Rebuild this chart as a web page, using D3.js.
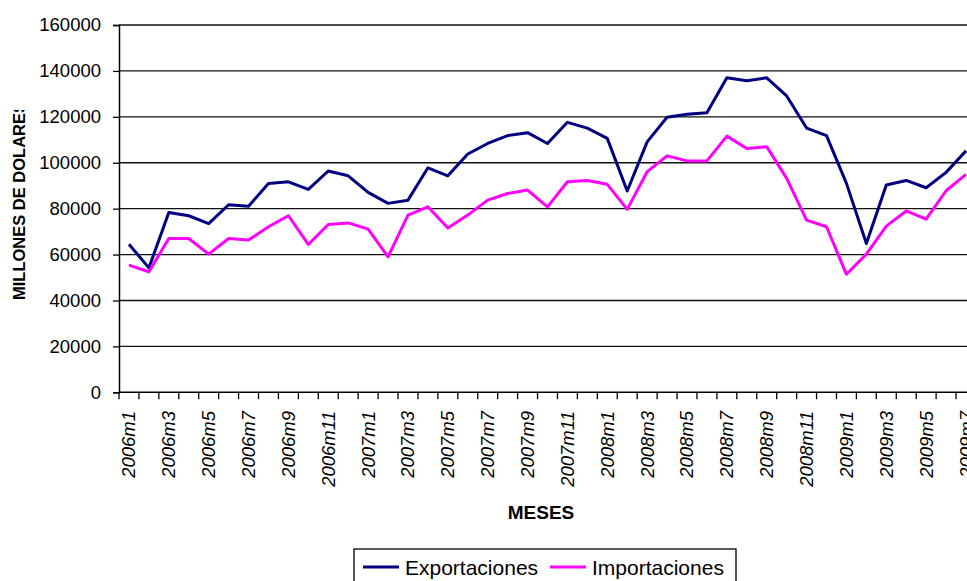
<!DOCTYPE html>
<html>
<head>
<meta charset="utf-8">
<script src="https://cdn.jsdelivr.net/npm/d3@7"></script>
<style>
  html, body { margin: 0; padding: 0; background: #fff; overflow: hidden; }
  svg { display: block; }
</style>
</head>
<body>
<div id="chart"></div>
<script>
// months 2006m1 .. 2009m7
const months = [];
for (let yr = 2006; yr <= 2009; yr++) {
  const last = yr === 2009 ? 7 : 12;
  for (let m = 1; m <= last; m++) months.push(`${yr}m${m}`);
}

const exportaciones = [
  64500, 54200, 78300, 76900, 73500, 81700, 81000, 91000, 91700, 88400, 96400, 94300,
  87100, 82300, 83700, 97800, 94300, 103800, 108400, 111800, 113100, 108400, 117600, 115100,
  110600, 87700, 109100, 119800, 121100, 121800, 137000, 135700, 137000, 129100, 115100, 111800,
  91000, 64800, 90300, 92300, 89100, 95800, 105200
];

const importaciones = [
  55400, 52500, 67000, 67000, 60200, 67000, 66300, 72100, 76900, 64400, 73100, 73800,
  71100, 59000, 77200, 80800, 71600, 77200, 83700, 86600, 88100, 80800, 91700, 92300,
  90600, 79700, 96100, 103000, 100800, 100800, 111600, 106200, 107000, 93200, 75000, 72100,
  51400, 60200, 72400, 79000, 75400, 87800, 94900
];

const yTicks = [0, 20000, 40000, 60000, 80000, 100000, 120000, 140000, 160000];

const series = [
  { name: "Exportaciones", values: exportaciones, color: "#000080" },
  { name: "Importaciones", values: importaciones, color: "#FF00FF" }
];

const width = 967;
const height = 581;
const margin = { top: 25, left: 119, bottom: 189 };
const band = 19.93;
const font = "'Liberation Sans', Arial, sans-serif";

const svg = d3.select("#chart")
  .append("svg")
  .attr("width", width)
  .attr("height", height)
  .style("font-family", font);

const x = d3.scaleBand()
  .domain(months)
  .range([margin.left, margin.left + band * months.length])
  .padding(0);

const y = d3.scaleLinear()
  .domain([0, 160000])
  .range([height - margin.bottom + 0.3, margin.top]);

// Gridlines
svg.append("g")
  .selectAll("line")
  .data(yTicks.slice(1))
  .join("line")
  .attr("x1", margin.left)
  .attr("x2", width)
  .attr("y1", d => y(d))
  .attr("y2", d => y(d))
  .attr("stroke", "#111")
  .attr("stroke-width", 1.3);

// Y axis
const yAxis = svg.append("g")
  .attr("transform", `translate(${margin.left},0)`)
  .call(d3.axisLeft(y).tickValues(yTicks).tickFormat(d3.format("d")).tickSize(6).tickPadding(12));
yAxis.select(".domain").attr("stroke", "#000").attr("stroke-width", 1.5);
yAxis.selectAll(".tick line").attr("stroke", "#000").attr("stroke-width", 1.3);
yAxis.selectAll("text")
  .style("font-family", font)
  .style("font-size", "18.5px")
  .attr("fill", "#000");

// X axis: ticks at band boundaries
const xBase = y(0);
const gx = svg.append("g");
gx.append("line")
  .attr("x1", margin.left)
  .attr("x2", width)
  .attr("y1", xBase)
  .attr("y2", xBase)
  .attr("stroke", "#000")
  .attr("stroke-width", 1.5);
gx.selectAll("line.tick")
  .data(months)
  .join("line")
  .attr("class", "tick")
  .attr("x1", d => x(d))
  .attr("x2", d => x(d))
  .attr("y1", xBase)
  .attr("y2", xBase + 7)
  .attr("stroke", "#000")
  .attr("stroke-width", 1.3);
gx.selectAll("text")
  .data(months.filter((d, i) => i % 2 === 0))
  .join("text")
  .attr("transform", d => `translate(${x(d) + x.bandwidth() / 2},411) rotate(-90)`)
  .attr("text-anchor", "end")
  .attr("dy", "0.35em")
  .style("font-size", "18.5px")
  .style("font-style", "italic")
  .text(d => d);

// Series lines
const line = d3.line()
  .x((d, i) => x(months[i]) + x.bandwidth() / 2)
  .y(d => y(d));

svg.append("g")
  .selectAll("path")
  .data(series)
  .join("path")
  .attr("d", d => line(d.values))
  .attr("fill", "none")
  .attr("stroke", d => d.color)
  .attr("stroke-width", 3)
  .attr("stroke-linejoin", "round");

// Axis titles (y title is clipped at the top like the original)
svg.append("clipPath")
  .attr("id", "ytitle-clip")
  .append("rect")
  .attr("x", 0)
  .attr("y", 110)
  .attr("width", 60)
  .attr("height", 300);

svg.append("g")
  .attr("clip-path", "url(#ytitle-clip)")
  .append("text")
  .attr("transform", "translate(25,300) rotate(-90)")
  .attr("text-anchor", "start")
  .style("font-size", "16.5px")
  .style("font-weight", "bold")
  .text("MILLONES DE DOLARES");

svg.append("text")
  .attr("x", 541)
  .attr("y", 519)
  .attr("text-anchor", "middle")
  .style("font-size", "19px")
  .style("font-weight", "bold")
  .text("MESES");

// Legend
const legend = svg.append("g");
legend.append("rect")
  .attr("x", 354)
  .attr("y", 549)
  .attr("width", 382)
  .attr("height", 50)
  .attr("fill", "#fff")
  .attr("stroke", "#000")
  .attr("stroke-width", 1.3);

const legendPos = [363, 550];
const items = legend.selectAll("g")
  .data(series)
  .join("g")
  .attr("transform", (d, i) => `translate(${legendPos[i]},567)`);
items.append("line")
  .attr("x1", 0)
  .attr("x2", 36)
  .attr("stroke", d => d.color)
  .attr("stroke-width", 3);
items.append("text")
  .attr("x", 42)
  .attr("dy", "0.36em")
  .style("font-size", "21px")
  .text(d => d.name);
</script>
</body>
</html>
